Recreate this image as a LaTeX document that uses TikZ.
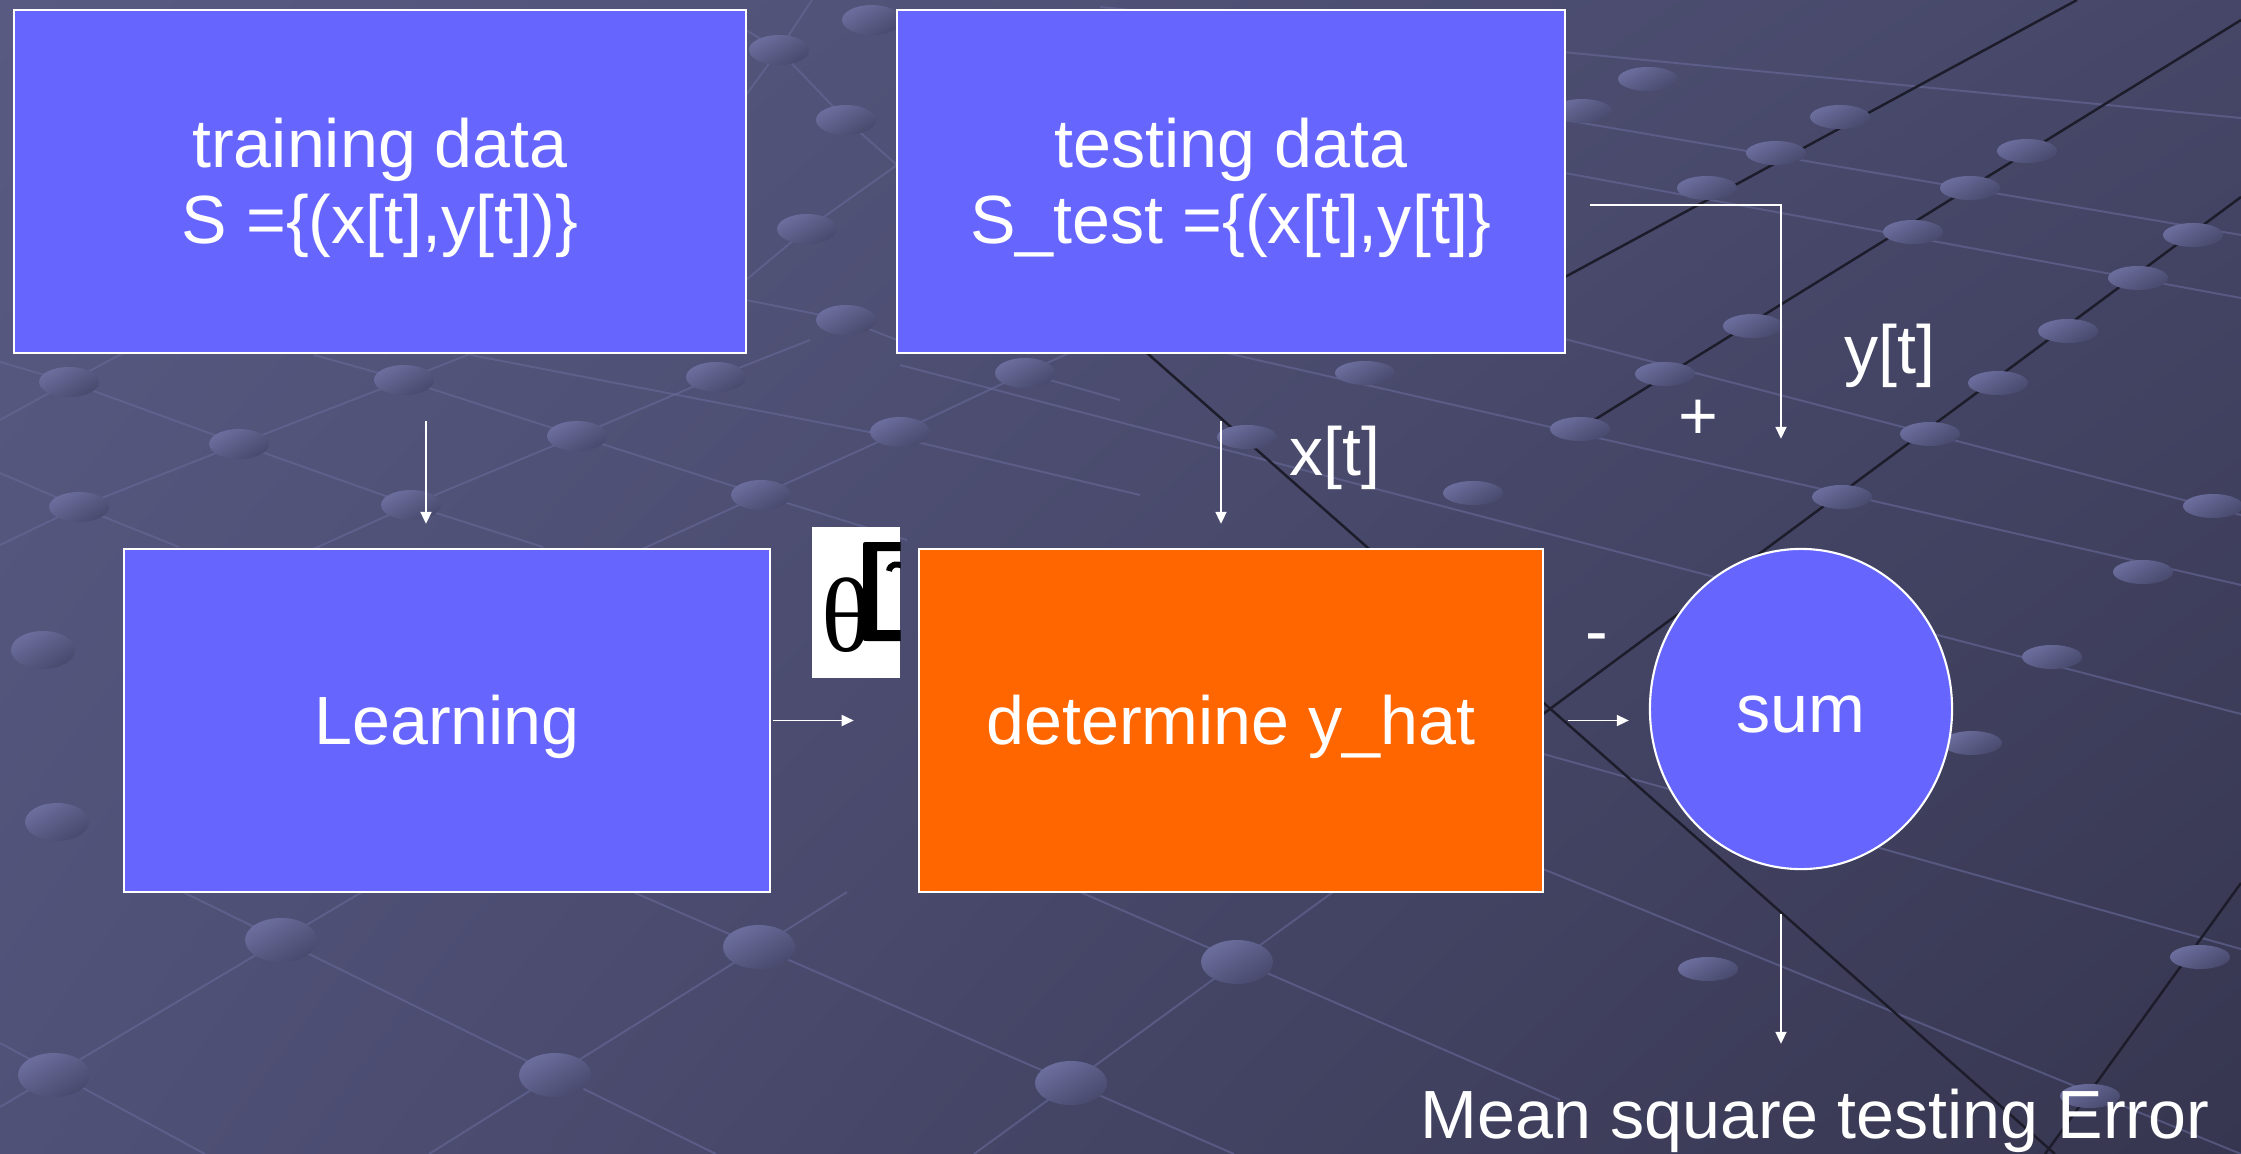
\documentclass[tikz,border=0pt]{standalone}
\usepackage{fontspec}
\setmainfont{Liberation Sans}
\newfontfamily\serifgreek{Liberation Serif}
\usetikzlibrary{arrows.meta,shapes.geometric,shadings}

\definecolor{bgtopleft}{RGB}{88,90,130}
\definecolor{bgtopright}{RGB}{70,71,104}
\definecolor{bgbotleft}{RGB}{80,81,119}
\definecolor{bgbotright}{RGB}{54,54,80}
\definecolor{meshline}{RGB}{104,106,154}
\definecolor{dotlight}{RGB}{108,110,158}
\definecolor{dotdark}{RGB}{72,73,108}
\definecolor{darkline}{RGB}{28,28,42}
\definecolor{boxblue}{RGB}{102,102,255}
\definecolor{boxorange}{RGB}{255,102,0}

\begin{document}
\begin{tikzpicture}[x=0.01cm,y=-0.01cm,
    txt/.style={text=white,font=\fontsize{19.4pt}{21.7pt}\selectfont,inner sep=0pt},
    box/.style={txt,draw=white,line width=0.6pt,fill=boxblue,align=center,text height=17.6pt,text depth=4.1pt},
    twoline/.style={text height=39.3pt},
    arr/.style={draw=white,line width=0.5pt,-{Triangle[length=0.12cm,width=0.11cm]}},
    mesh/.style={draw=meshline,line width=0.55pt,draw opacity=0.6},
    ridge/.style={draw=darkline,line width=0.7pt},
    knot/.style={left color=dotlight,right color=dotdark,shading angle=30}]
    \def\boxh{3.43cm}

    % slide background
    \useasboundingbox (0,0) rectangle (2241,1154);
    \shade[upper left=bgtopleft,upper right=bgtopright,lower left=bgbotleft,lower right=bgbotright]
        (0,0) rectangle (2241,1154);

    % net in the background
    \draw[mesh] (0,420) -- (69,382) -- (157,335);
    \draw[mesh] (0,545) -- (79,507) -- (239,444) -- (404,380) -- (480,350);
    \draw[mesh] (300,555) -- (411,505) -- (577,436) -- (716,377) -- (810,340);
    \draw[mesh] (640,550) -- (761,495) -- (900,432) -- (1025,373) -- (1120,330);
    \draw[mesh] (0,362) -- (69,382) -- (239,444) -- (411,505) -- (543,547);
    \draw[mesh] (314,355) -- (404,380) -- (577,436) -- (761,495) -- (907,540);
    \draw[mesh] (471,355) -- (900,438) -- (1140,495);
    \draw[mesh] (0,473) -- (79,507) -- (179,547);
    \draw[mesh] (1025,373) -- (1120,400);
    \draw[mesh] (746,95) -- (779,50) -- (812,0);
    \draw[mesh] (746,30) -- (779,50) -- (846,120) -- (897,165);
    \draw[mesh] (746,280) -- (807,229) -- (897,165);
    \draw[mesh] (746,300) -- (846,320) -- (897,340);
    \draw[mesh] (0,1107) -- (362,892);
    \draw[mesh] (183,892) -- (716,1154);
    \draw[mesh] (429,1154) -- (847,892);
    \draw[mesh] (633,892) -- (1234,1154);
    \draw[mesh] (974,1154) -- (1333,892);
    \draw[mesh] (1080,892) -- (1560,1100);
    \draw[mesh] (0,1043) -- (205,1154);
    \begin{scope}[draw opacity=0.45]
    \draw[mesh] (1100,7) -- (2241,118);
    \draw[mesh] (1100,41) -- (2241,235);
    \draw[mesh] (1100,87) -- (2241,298);
    \draw[mesh] (1100,218) -- (2241,515);
    \draw[mesh] (1100,324) -- (2241,585);
    \draw[mesh] (900,365) -- (2241,714);
    \draw[mesh] (1100,630) -- (2241,949);
    \draw[mesh] (1543,869) -- (2241,1154);
    \end{scope}

    \draw[ridge] (1147,353) -- (2055,1154);
    \draw[ridge] (2241,197) -- (1400,820);
    \draw[ridge] (2241,20) -- (1565,438);
    \draw[ridge] (2077,0) -- (1565,277);
    \draw[ridge] (2241,883) -- (2045,1154);

    \foreach \x/\y in {69/382,404/380,716/377,1025/373,239/444,577/436,900/432,79/507,
        411/505,761/495,779/50,872/20,846/120,807/229,846/320}
        \shade[knot] (\x,\y) ellipse [x radius=30,y radius=15];
    \foreach \x/\y in {43/650,57/822}
        \shade[knot] (\x,\y) ellipse [x radius=32,y radius=19];
    \foreach \x/\y in {281/940,759/947,1237/962,54/1075,555/1075,1071/1083}
        \shade[knot] (\x,\y) ellipse [x radius=36,y radius=22];
    \foreach \x/\y in {1648/79,1582/111,1840/117,1776/153,2027/151,1707/188,1970/188,
        1913/232,2193/235,2138/278,2068/331,1753/326,1998/383,1665/374,1930/434,1580/429,
        1842/497,1473/493,2213/506,2143/572,2052/657,1972/743,2200/957,1708/969,2090/1096,
        1365/373,1247/437}
        \shade[knot] (\x,\y) ellipse [x radius=30,y radius=12];

    % blocks
    \node[box,twoline,minimum width=7.32cm,minimum height=\boxh] (train) at (380,181.5) {training data\\S =\{(x[t],y[t])\}};
    \node[box,twoline,minimum width=6.68cm,minimum height=\boxh] (test) at (1231,181.5) {testing data\\S\_test =\{(x[t],y[t]\}};
    \node[box,minimum width=6.46cm,minimum height=\boxh] (learn) at (447,720.5) {Learning};
    \node[box,fill=boxorange,minimum width=6.24cm,minimum height=\boxh] (yhat) at (1231,720.5) {determine y\_hat};
    \node[box,ellipse,minimum width=3.02cm,minimum height=3.2cm] (sum) at (1801,709) {sum};

    % parameter symbol, with its broken second glyph
    \node[fill=white,minimum width=0.88cm,minimum height=1.51cm,inner sep=0pt] (thetabox) at (856,602.5) {};
    \node[anchor=base west,inner sep=0pt,font=\serifgreek\fontsize{30pt}{30pt}\selectfont] (theta) at (821,651) {θ};
    \begin{scope}
        \clip (thetabox.south west) rectangle (thetabox.north east);
        \fill[black] (902,542) -- (868,542) .. controls (863,542) .. (863,547) -- (863,636)
            .. controls (863,641) .. (868,641) -- (902,641) -- (902,630) -- (877,630)
            -- (877,551) -- (902,551) -- cycle;
        \draw[line width=0.06cm] (889,571) .. controls (890,564) and (897,563) .. (903,566);
    \end{scope}

    % signals
    \draw[arr,shorten <=0.67cm,shorten >=0.24cm] ([xshift=0.46cm]train.south) -- ([xshift=-0.21cm]learn.north);
    \draw[arr,shorten <=0.67cm,shorten >=0.24cm] ([xshift=-0.1cm]test.south) -- ([xshift=-0.1cm]yhat.north);
    \draw[arr,shorten <=0.02cm,shorten >=0.64cm] (learn.east) -- (yhat.west);
    \draw[arr,shorten <=0.24cm,shorten >=0.2cm] (yhat.east) -- (yhat.east -| sum.west);
    \draw[arr,shorten <=0.24cm,shorten >=1.09cm] ([yshift=-0.235cm]test.east) -| ([xshift=-0.2cm]sum.north);

    \node[txt,anchor=base] (xlbl) at (1335,475) {x[t]};
    \node[txt,anchor=base] (ylbl) at (1890,373) {y[t]};
    \node[txt,anchor=base] (plus) at (1698,439) {+};
    \node[txt,anchor=base] (minus) at (1597,654) {-};
    \node[txt,anchor=base] (mse) at (1815,1138) {Mean square testing Error};

    \coordinate (tap) at ([xshift=-0.2cm]sum.south);
    \draw[arr,shorten <=0.44cm,shorten >=0.44cm] (tap) -- (tap |- mse.north);
\end{tikzpicture}
\end{document}
